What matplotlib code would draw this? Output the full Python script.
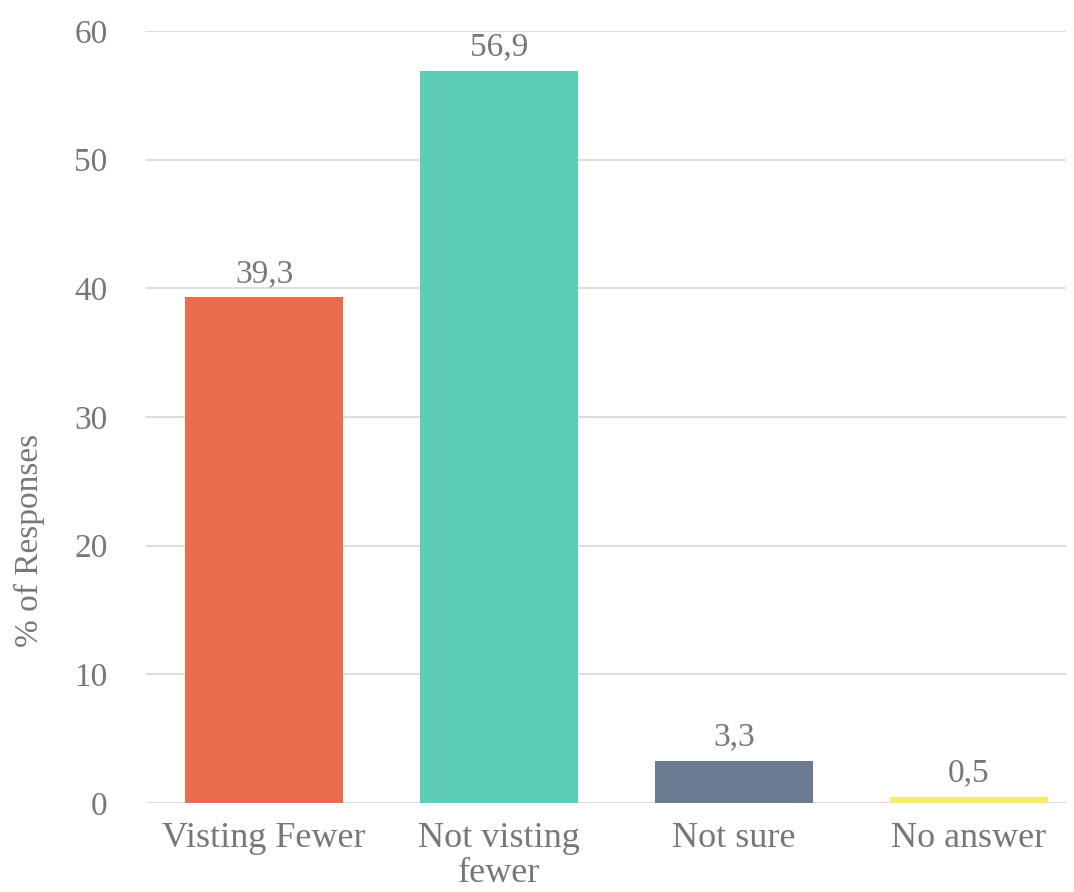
import matplotlib
matplotlib.use("Agg")
import matplotlib.pyplot as plt

# survey answers
categories = ["Visting Fewer", "Not visting\nfewer", "Not sure", "No answer"]
values = [39.3, 56.9, 3.3, 0.5]
colors = ["#EC6D4E", "#5ECDB7", "#6B7A8E", "#FBEB6B"]
yticks = [0, 10, 20, 30, 40, 50, 60]

text_grey = "#777777"
plt.rcParams['font.family'] = ['Liberation Serif', 'DejaVu Serif']

fig = plt.figure(figsize=(10.74, 8.92), dpi=100)
ax = fig.add_axes([0.1364, 0.0998, 0.9926 - 0.1364, 0.9652 - 0.0998])

x = list(range(len(categories)))
bars = ax.bar(x, values, width=0.67, color=colors, zorder=2)

for xi, v in zip(x, values):
    ax.annotate(f"{v:.1f}".replace('.', ','), (xi, v), xytext=(0, 6),
                textcoords='offset points', ha='center', va='bottom',
                fontsize=24, color=text_grey)

ax.set_xlim(-0.5, 3.413)
ax.set_ylim(0, 60)
ax.set_yticks(yticks)
ax.set_xticks(x)
ax.set_xticklabels(categories, fontsize=26, color=text_grey, linespacing=1.05)
ax.tick_params(axis='x', length=0, pad=14)
ax.tick_params(axis='y', length=0, pad=28, labelsize=24, labelcolor=text_grey)
ax.set_ylabel('% of Responses', fontsize=24, color=text_grey)
# label sits a bit below the axis middle, as in the original
ax.yaxis.set_label_coords(-0.11, 0.34)

ax.yaxis.grid(True, color='#DDDDDD', linewidth=1.5, zorder=0)
ax.set_axisbelow(True)
for s in ax.spines.values():
    s.set_visible(False)

fig.savefig('out.png', dpi=100)
